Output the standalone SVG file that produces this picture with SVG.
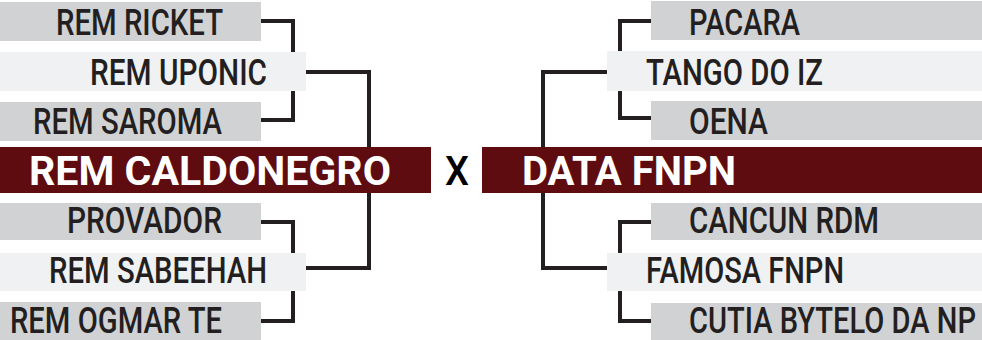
<svg xmlns="http://www.w3.org/2000/svg" width="982" height="340" viewBox="0 0 982 340">
<style>
.g{fill:#d1d2d4}
.l{fill:#f0f1f2}
.m{fill:#5e0c0f}
.t{font-family:Roboto,"Liberation Sans",sans-serif;font-weight:500;font-size:36px;fill:#231f20}
.h{font-family:Roboto,"Liberation Sans",sans-serif;font-weight:700;font-size:40px;fill:#ffffff}
.x{font-family:Roboto,"Liberation Sans",sans-serif;font-weight:500;font-size:40px;fill:#000000}
.c{fill:none;stroke:#231f20;stroke-width:4}
</style>
<g id="connectors">
<path class="c" d="M261 21 H293 V52"/>
<path class="c" d="M261 120 H293 V91"/>
<path class="c" d="M306 72 H369 V147"/>
<path class="c" d="M369 193 V268 H306"/>
<path class="c" d="M261 222 H293 V253"/>
<path class="c" d="M261 321 H293 V291"/>
<path class="c" d="M651 21 H620 V51"/>
<path class="c" d="M651 118 H620 V91"/>
<path class="c" d="M607 72 H543 V147"/>
<path class="c" d="M543 193 V268 H607"/>
<path class="c" d="M651 222 H620 V253"/>
<path class="c" d="M651 321 H620 V291"/>
</g>
<g id="rem-ricket"><rect class="g" x="0" y="2" width="261" height="39"/><text class="t" x="56" y="35" textLength="167" lengthAdjust="spacingAndGlyphs">REM RICKET</text></g>
<g id="rem-uponic"><rect class="l" x="0" y="52" width="306" height="39"/><text class="t" x="90" y="85" textLength="177" lengthAdjust="spacingAndGlyphs">REM UPONIC</text></g>
<g id="rem-saroma"><rect class="g" x="0" y="102" width="261" height="39"/><text class="t" x="33" y="134" textLength="189" lengthAdjust="spacingAndGlyphs">REM SAROMA</text></g>
<g id="rem-caldonegro"><rect class="m" x="0" y="147" width="431" height="46"/><text class="h" x="29" y="185" textLength="362" lengthAdjust="spacingAndGlyphs">REM CALDONEGRO</text></g>
<g id="provador"><rect class="g" x="0" y="203" width="261" height="37"/><text class="t" x="67" y="233" textLength="155" lengthAdjust="spacingAndGlyphs">PROVADOR</text></g>
<g id="rem-sabeehah"><rect class="l" x="0" y="253" width="306" height="38"/><text class="t" x="49" y="283" textLength="218" lengthAdjust="spacingAndGlyphs">REM SABEEHAH</text></g>
<g id="rem-ogmar-te"><rect class="g" x="0" y="302" width="261" height="38"/><text class="t" x="10" y="333" textLength="212" lengthAdjust="spacingAndGlyphs">REM OGMAR TE</text></g>
<g id="versus"><text class="x" x="445" y="185" textLength="24" lengthAdjust="spacingAndGlyphs">X</text></g>
<g id="pacara"><rect class="g" x="651" y="1" width="331" height="39"/><text class="t" x="689" y="35" textLength="111" lengthAdjust="spacingAndGlyphs">PACARA</text></g>
<g id="tango-do-iz"><rect class="l" x="607" y="51" width="375" height="40"/><text class="t" x="646" y="85" textLength="177" lengthAdjust="spacingAndGlyphs">TANGO DO IZ</text></g>
<g id="oena"><rect class="g" x="651" y="101" width="331" height="39"/><text class="t" x="689" y="134" textLength="79" lengthAdjust="spacingAndGlyphs">OENA</text></g>
<g id="data-fnpn"><rect class="m" x="482" y="147" width="500" height="46"/><text class="h" x="522" y="185" textLength="214" lengthAdjust="spacingAndGlyphs">DATA FNPN</text></g>
<g id="cancun-rdm"><rect class="g" x="651" y="203" width="331" height="37"/><text class="t" x="689" y="233" textLength="190" lengthAdjust="spacingAndGlyphs">CANCUN RDM</text></g>
<g id="famosa-fnpn"><rect class="l" x="607" y="253" width="375" height="38"/><text class="t" x="646" y="283" textLength="198" lengthAdjust="spacingAndGlyphs">FAMOSA FNPN</text></g>
<g id="cutia-bytelo"><rect class="g" x="651" y="303" width="331" height="37"/><text class="t" x="689" y="333" textLength="287" lengthAdjust="spacingAndGlyphs">CUTIA BYTELO DA NP</text></g>
</svg>
